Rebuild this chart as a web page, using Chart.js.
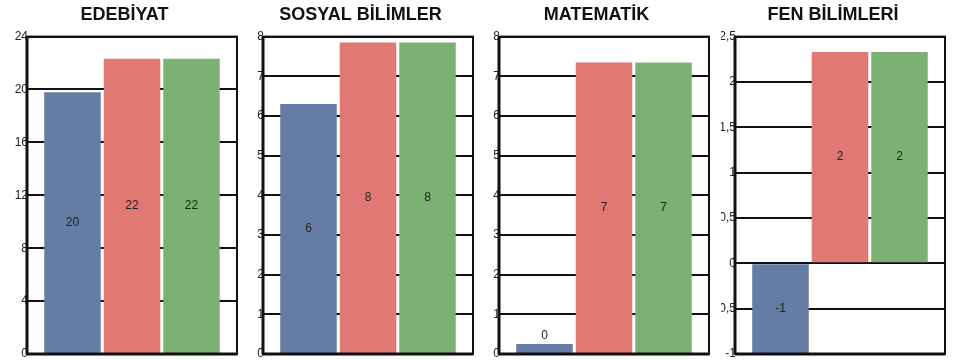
<!DOCTYPE html>
<html>
<head>
<meta charset="utf-8">
<script src="https://cdn.jsdelivr.net/npm/chart.js@4/dist/chart.umd.min.js"></script>
<style>
  body { margin: 0; background: #fff; width: 956px; height: 360px; overflow: hidden; position: relative; }
  canvas { position: absolute; top: 0; }
</style>
</head>
<body>
<canvas id="c0" width="236" height="360" style="left:12px"></canvas>
<canvas id="c1" width="236" height="360" style="left:248px"></canvas>
<canvas id="c2" width="236" height="360" style="left:484px"></canvas>
<canvas id="c3" width="235" height="360" style="left:721px"></canvas>
<script>
  // one small chart per subject, three bars each
  const subjects = ['EDEBİYAT', 'SOSYAL BİLİMLER', 'MATEMATİK', 'FEN BİLİMLERİ'];
  const seriesNames = ['Öğrenci', 'Sınıf', 'Okul'];

  const seriesA = [19.8, 6.3, 0.25, -1];
  const seriesB = [22.33, 7.85, 7.35, 2.33];
  const seriesC = [22.33, 7.85, 7.35, 2.33];

  const yMin = [0, 0, 0, -1];
  const yMax = [24, 8, 8, 2.5];
  const yStep = [4, 1, 1, 0.5];

  const colors = ['#657CA4', '#E07874', '#7BB274'];
  const font = "'Liberation Sans', Arial, sans-serif";

  // value text in the middle of each bar (above it if the bar is too short)
  var valueLabels = {
    id: 'valueLabels',
    afterDatasetsDraw: function (chart) {
      var ctx = chart.ctx;
      ctx.save();
      ctx.font = '12px ' + font;
      ctx.fillStyle = '#222';
      ctx.textAlign = 'center';
      ctx.textBaseline = 'middle';
      chart.data.datasets.forEach(function (ds, i) {
        chart.getDatasetMeta(i).data.forEach(function (bar, j) {
          var v = ds.data[j];
          var h = Math.abs(bar.base - bar.y);
          var y = h < 16 ? Math.min(bar.y, bar.base) - 8 : (bar.y + bar.base) / 2;
          ctx.fillText(String(Math.round(v)), bar.x, y);
        });
      });
      ctx.restore();
    }
  };

  // black frame round the plot
  var frame = {
    id: 'frame',
    afterDatasetsDraw: function (chart) {
      var a = chart.chartArea;
      var ctx = chart.ctx;
      ctx.save();
      ctx.strokeStyle = '#111';
      ctx.lineWidth = 2;
      ctx.strokeRect(a.left, a.top, a.right - a.left, a.bottom - a.top);
      ctx.beginPath();
      ctx.lineWidth = 3;
      ctx.moveTo(a.left, a.bottom);
      ctx.lineTo(a.right, a.bottom);
      ctx.moveTo(a.left, a.top);
      ctx.lineTo(a.left, a.bottom);
      ctx.stroke();
      ctx.restore();
    }
  };

  function setupChart(i) {
    var values = [seriesA[i], seriesB[i], seriesC[i]];
    var canvas = document.getElementById('c' + i).getContext('2d');
    var axisWidth = i === 3 ? 14 : 15;

    return new Chart(canvas, {
      type: 'bar',
      data: {
        labels: [subjects[i]],
        datasets: values.map(function (v, k) {
          return {
            label: seriesNames[k],
            data: [v],
            backgroundColor: colors[k],
            borderWidth: 0,
            categoryPercentage: 0.85,
            barPercentage: 0.95
          };
        })
      },
      options: {
        responsive: false,
        animation: false,
        events: [],
        layout: {
          padding: { left: 0, right: 11, top: 0, bottom: 6 }
        },
        plugins: {
          legend: { display: false },
          tooltip: { enabled: false },
          title: {
            display: true,
            text: subjects[i],
            color: '#111',
            font: { family: font, size: 18, weight: 'bold' },
            padding: { top: 4, bottom: 11 }
          }
        },
        scales: {
          x: { display: false },
          y: {
            min: yMin[i],
            max: yMax[i],
            grid: { color: '#111', lineWidth: 2, drawTicks: false },
            border: { display: false },
            ticks: {
              stepSize: yStep[i],
              padding: -1,
              color: '#222',
              font: { family: font, size: 12 },
              callback: function (v) { return String(v).replace('.', ','); }
            },
            afterFit: function (scale) {
              scale.width = axisWidth;
              scale.paddingTop = 0;
              scale.paddingBottom = 0;
            }
          }
        }
      },
      plugins: [frame, valueLabels]
    });
  }

  subjects.forEach(function (s, i) { setupChart(i); });
</script>
</body>
</html>
